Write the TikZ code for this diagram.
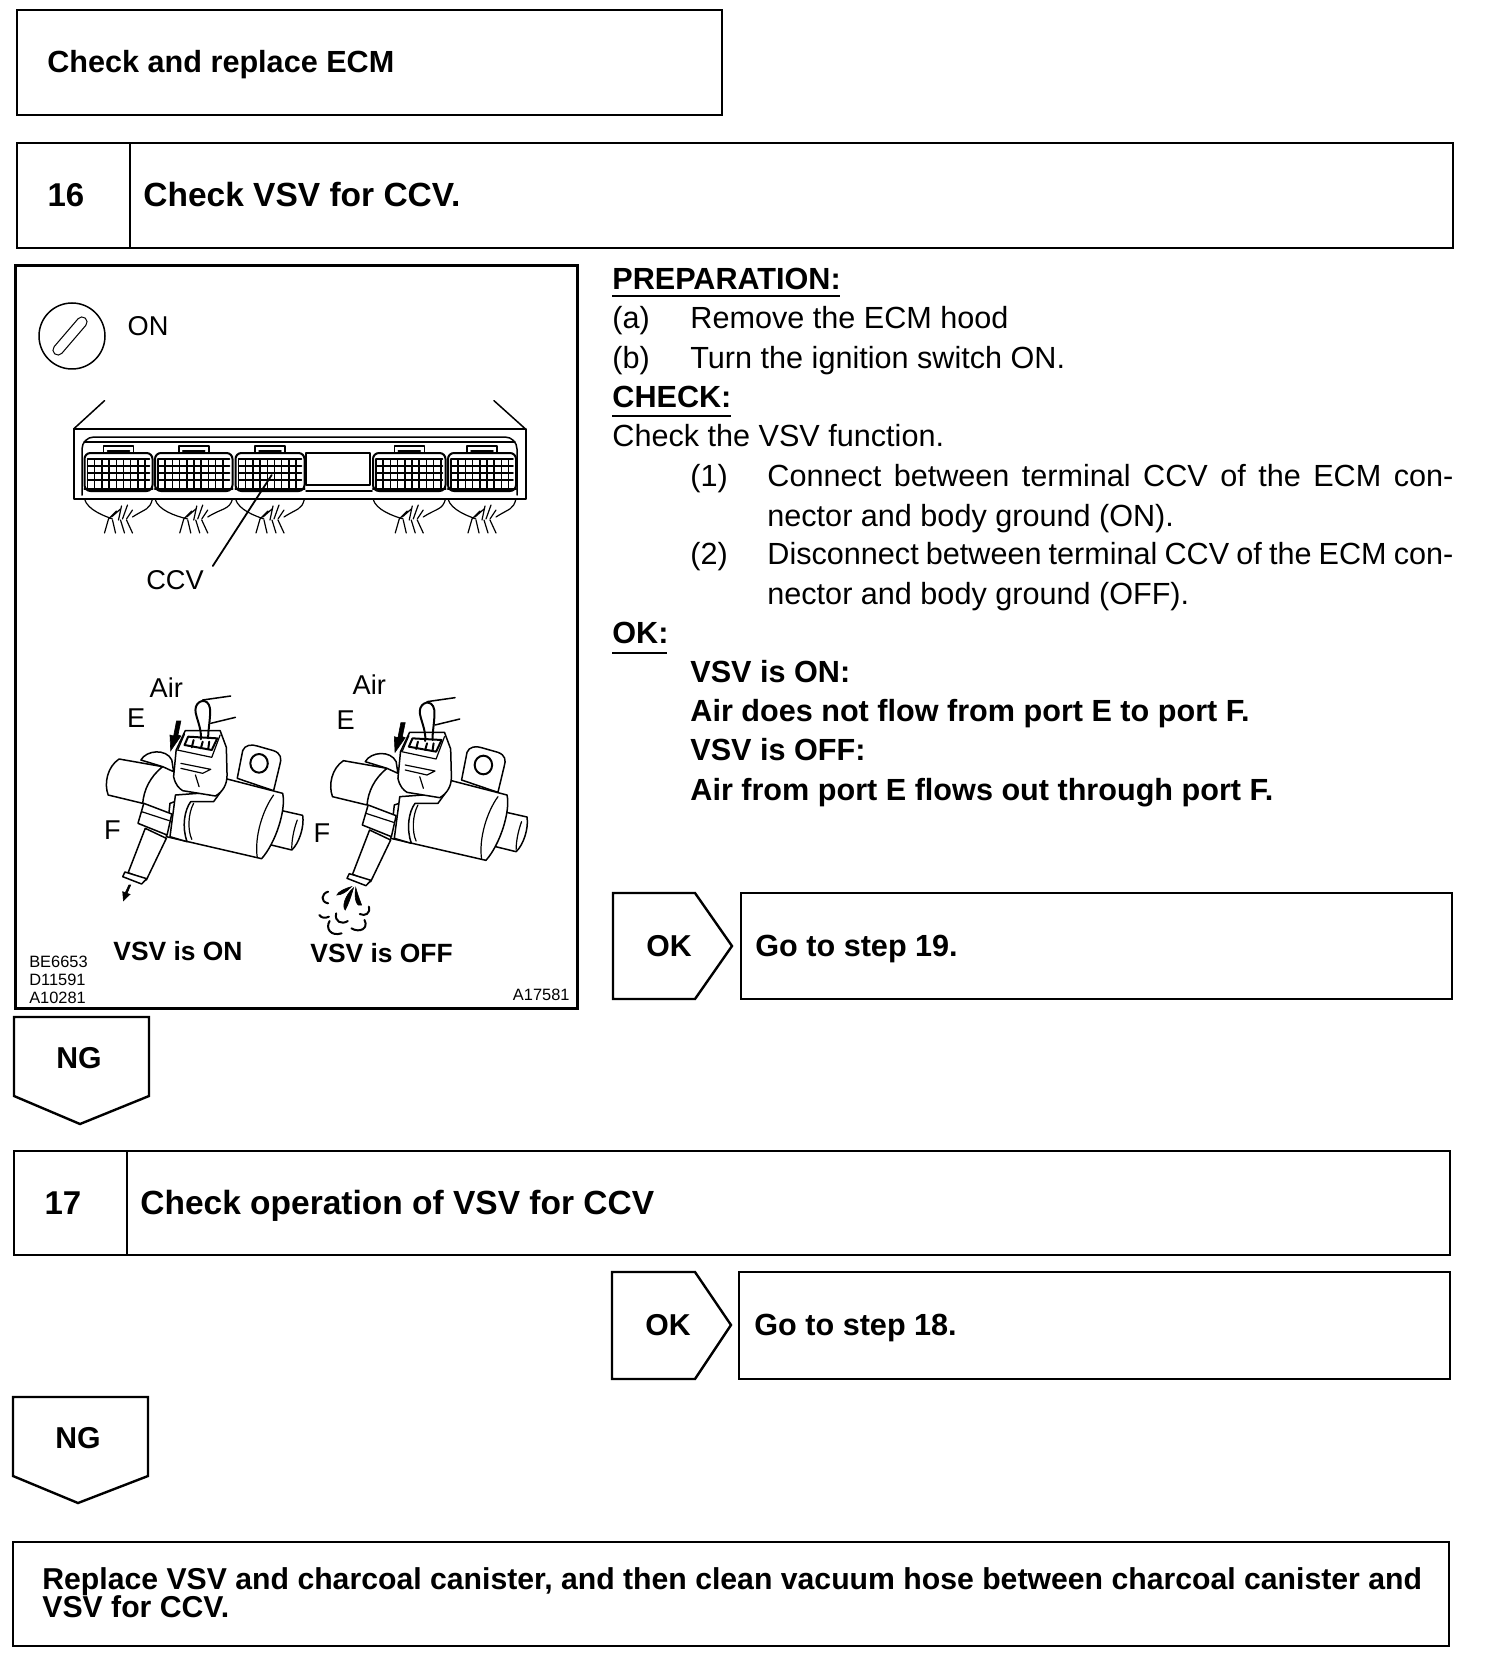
\documentclass[tikz,border=0pt]{standalone}
\usepackage{fontspec}
\setmainfont{Liberation Sans}
\usetikzlibrary{fit}
\tikzset{
 panel/.style={draw=black,line width=1.2pt,inner sep=0pt,fill=white},
 outl/.style={draw=black,line width=1.2pt,line join=miter,fill=white},
 txt/.style={inner sep=0pt,anchor=west,text height=10.8pt,text depth=0pt,font=\fontsize{15.3pt}{17pt}\selectfont},
 btxt/.style={inner sep=0pt,anchor=west,text height=10.8pt,text depth=0pt,font=\fontsize{15.3pt}{17pt}\selectfont\bfseries},
 ttxt/.style={inner sep=0pt,anchor=west,text height=11.8pt,text depth=0pt,font=\fontsize{16.75pt}{19pt}\selectfont\bfseries},
 ctr/.style={inner sep=0pt,anchor=center,text height=10.8pt,text depth=0pt,font=\fontsize{15.1pt}{17pt}\selectfont\bfseries},
 numb/.style={inner sep=0pt,anchor=center,text height=11.8pt,text depth=0pt,font=\fontsize{16.5pt}{19pt}\selectfont\bfseries},
 lab/.style={inner sep=0pt,anchor=center,text height=9.8pt,text depth=0pt,font=\fontsize{13.6pt}{15pt}\selectfont},
 blab/.style={inner sep=0pt,anchor=center,text height=9.5pt,text depth=0pt,font=\fontsize{13.2pt}{15pt}\selectfont\bfseries},
 tiny/.style={inner sep=0pt,text height=5.8pt,text depth=0pt,font=\fontsize{8.2pt}{9pt}\selectfont},
 ul/.style={draw=black,line width=0.8pt},
 art/.style={draw=black,line width=0.75pt,line join=round,line cap=round},
 thin art/.style={draw=black,line width=0.6pt,line join=round,line cap=round},
 ink/.style={fill=black,draw=black,line width=0.3pt},
}
\newcommand{\valvebody}{%
 % left cylinder
 \draw[art,fill=white] (300,297) -- (420,320) .. controls (385,350) and (368,390) .. (365,430) -- (270,405) .. controls (258,370) and (268,320) .. (300,297) -- cycle;
 \draw[art,fill=white] (360,300) .. controls (375,270) and (430,265) .. (445,300) -- (450,335) -- (420,320) -- cycle;
 % bracket
 \draw[art,fill=white] (625,355) -- (640,272) .. controls (645,255) and (665,252) .. (680,258) -- (725,272) .. controls (745,280) and (748,295) .. (742,315) -- (725,392) -- cycle;
 \draw[art,line width=1pt] (685,310) ellipse [x radius=24,y radius=28];
 % right stub
 \draw[art,fill=white] (740,450) -- (805,466) .. controls (810,500) and (795,550) .. (775,570) -- (700,550) -- cycle;
 \draw[thin art] (790,480) .. controls (780,510) and (775,540) .. (775,565);
 % main cylinder
 \draw[art,fill=white] (570,380) -- (590,355) -- (750,400) .. controls (760,450) and (730,550) .. (692,596) -- (430,530) -- (440,430) -- cycle;
 \draw[thin art] (725,405) .. controls (695,450) and (672,530) .. (680,592);
 % band
 \draw[art,fill=white] (455,405) -- (440,530) -- (487,545) .. controls (472,500) and (480,450) .. (497,425) -- (560,425) -- (580,395) -- cycle;
 \draw[thin art] (505,430) .. controls (490,460) and (488,510) .. (500,538);
 % connector body
 \draw[art,fill=white] (457,270) -- (450,350) .. controls (455,375) and (465,385) .. (475,392) -- (565,408) .. controls (585,395) and (597,375) .. (597,345) -- (595,262) -- (578,212) -- (482,212) -- cycle;
 \draw[thin art] (460,270) -- (555,292) -- (578,225) ;
 \draw[thin art] (480,222) -- (462,268);
 \draw[thin art] (470,310) -- (552,328) -- (530,340) -- (470,325);
 \draw[thin art] (510,345) -- (520,380);
 \draw[art,line width=1pt] (490,230) -- (480,255) -- (555,270) -- (570,235) -- cycle;
 \draw[art,line width=1pt] (505,240) -- (500,262) (530,245) -- (525,265) (548,245) -- (545,268);
 % wires
 \draw[art,line width=1pt] (525,238) .. controls (528,205) and (510,170) .. (510,150) .. controls (510,120) and (545,110) .. (550,145) .. controls (552,175) and (545,205) .. (545,235);
 \draw[art] (530,120) -- (607,108) (552,190) -- (620,172);
 % nipple and tube
 \draw[art,fill=white] (368,430) -- (445,462) -- (432,525) -- (352,490) -- cycle;
 \draw[thin art] (362,455) -- (438,482);
 \draw[art,fill=white] (372,505) -- (325,638) -- (375,660) -- (430,535) -- cycle;
 \draw[art,fill=white] (316,636) -- (376,656) -- (362,672) -- (310,650) -- cycle;
 % air arrow
 \fill[ink] (470,183) -- (462,225) -- (470,228) -- (442,272) -- (440,225) -- (450,228) -- (458,183) -- cycle;
}
\begin{document}
\begin{tikzpicture}[x=0.5pt,y=-0.5pt]
\useasboundingbox (0,0) rectangle (1504,1674);
% --- header boxes
\node[panel,fit={(17,10)(722,115)}] (boxtop) {};
\node[btxt] (ttop) at (47,62) {Check and replace ECM};
\node[panel,fit={(17,143)(130,248)}] (num16) {};
\node[panel,fit={(130,143)(1453,248)}] (box16) {};
\node[numb] (t16) at (66,195) {16};
\node[ttxt] (title16) at (143,195) {Check VSV for CCV.};
% --- illustration panel
\node[panel,line width=1.5pt,fit={(15,266)(577,1008)}] (illus) {};
\draw[art] (72,336) circle [radius=33];
\draw[line width=5.6pt,line cap=round,black] (58,350) -- (82,322);
\draw[line width=4.4pt,line cap=round,white] (58,350) -- (82,322);
\node[lab] (on) at (148,326) {ON};
% ECM
\draw[art] (73.6,429) -- (104.5,400.7) (525.5,429) -- (494,400.7);
\draw[art,line width=1pt] (73.6,429) -- (525.5,429) -- (525.5,499) -- (73.6,499) -- cycle;
\draw[art,rounded corners=6pt] (82,495) -- (82,437) -- (517,437) -- (517,495);
\draw[art] (84,442) -- (515,442);
\draw[art,line width=1pt] (306,452.7) rectangle (370,485);
\draw[art] (306,491) -- (372,491);
\foreach \a/\b in {84.5/152.5,155/232.5,235.5/304.5,373/445.5,448/516}{
 \pgfmathsetmacro\c{(\a+\b)/2}
 \draw[art,fill=white] ({\c-15},453) -- ({\c-15},446) -- ({\c+15},446) -- ({\c+15},453);
 \draw[art] ({\c-11},451) -- ({\c+11},451);
 \draw[art,line width=1pt,rounded corners=3pt] (\a,491) -- (\a,453) -- (\b,453) -- (\b,491) -- cycle;
 \draw[art,line width=1.2pt] (\a,489) -- (\b,489);
 \foreach \yy in {459,466,473,480}{\draw[art] ({\a+3},\yy) -- ({\b-3},\yy);}
 \pgfmathsetmacro\nn{int((\b-\a-6)/7.2)}
 \foreach \i in {0,...,\nn}{\draw[art] ({\a+3+\i*7.2},459) -- ({\a+3+\i*7.2},489);}
 \draw[thin art] (\a,499) .. controls ({\a+3},510) and ({\a+20},516) .. ({\c-6},519);
 \draw[thin art] (\b,499) .. controls ({\b-3},510) and ({\c+28},508) .. ({\c+14},517);
 \draw[thin art] ({\c-6},520) -- ({\c-3},533) ({\c-10},519) -- ({\c-14},533);
 \draw[thin art] ({\c+8},520) -- ({\c+14},533) ({\c+2},520) -- ({\c+6},533);
 \draw[thin art] ({\c-10},519) -- ({\c-2},511) (\c,520) -- ({\c+3},506) ({\c+4},519) -- ({\c+9},505) ({\c+8},519) -- ({\c+14},510) ({\c-7},517) -- ({\c+2},509);
}
\coordinate (ccvpin) at (271.7,475);
\coordinate (ccvend) at (212.8,566);
\draw[art,line width=0.9pt] (ccvpin) -- (ccvend);
\node[lab] (ccv) at (175,580) {CCV};
% valves, in crop units
\begin{scope}[shift={(10,660)},x=0.1818pt,y=-0.16667pt]
 \valvebody
 \fill[ink] (332,675) -- (322,700) -- (330,703) -- (312,722) -- (310,695) -- (317,698) -- (327,675) -- cycle;
 \begin{scope}[shift={(617,5)}]
  \valvebody
  \fill[ink] (322,675) .. controls (310,690) and (295,700) .. (282,700) .. controls (285,690) and (305,680) .. (322,675) -- cycle;
  \fill[ink] (328,678) .. controls (322,700) and (315,725) .. (305,745) .. controls (295,735) and (305,700) .. (328,678) -- cycle;
  \fill[ink] (334,678) .. controls (338,695) and (345,715) .. (350,730) .. controls (338,738) and (328,715) .. (334,678) -- cycle;
  \draw[art,line width=1pt] (258,690) .. controls (240,695) and (235,720) .. (258,725);
  \draw[art,line width=1pt] (370,735) .. controls (375,755) and (360,765) .. (345,757);
  \draw[art,line width=1pt] (280,755) .. controls (275,780) and (295,790) .. (312,778);
  \draw[art,line width=1pt] (234,760) .. controls (240,770) and (250,770) .. (260,765);
  \draw[art,line width=1pt] (262,778) .. controls (250,800) and (265,825) .. (295,815);
  \draw[art,line width=1pt] (358,775) .. controls (370,800) and (345,815) .. (322,800);
 \end{scope}
 \node[lab] (airl) at (430,82) {Air};
 \node[lab] (el) at (347,172) {E};
 \node[lab] (fl) at (282,510) {F};
 \node[lab] (airr) at (988,74) {Air};
 \node[lab] (er) at (923,178) {E};
 \node[lab] (fr) at (858,517) {F};
 \node[blab] (vsvon) at (462,873) {VSV is ON};
 \node[blab] (vsvoff) at (1022,878) {VSV is OFF};
 \node[tiny,anchor=west] (c1) at (52,905) {BE6653};
 \node[tiny,anchor=west] (c2) at (52,960) {D11591};
 \node[tiny,anchor=west] (c3) at (52,1013) {A10281};
 \node[tiny,anchor=east] (c4) at (1540,1003) {A17581};
\end{scope}
% --- right text
\node[btxt] (prep) at (612,279) {PREPARATION:};
\draw[ul] (612,296) -- (840,296);
\node[txt] (a1) at (612,318) {(a)};
\node[txt] (a2) at (690,318) {Remove the ECM hood};
\node[txt] (b1) at (612,358) {(b)};
\node[txt] (b2) at (690,358) {Turn the ignition switch ON.};
\node[btxt] (chk) at (612,397) {CHECK:};
\draw[ul] (612,416) -- (731,416);
\node[txt] (chk2) at (612,436) {Check the VSV function.};
\node[txt] (n1) at (690,476) {(1)};
\node[txt] (n1a) at (767,476) {\hbox to 343pt{Connect between terminal CCV of the ECM con-}};
\node[txt] (n1b) at (767,516) {nector and body ground (ON).};
\node[txt] (n2) at (690,554) {(2)};
\node[txt] (n2a) at (767,554) {\hbox to 343pt{Disconnect between terminal CCV of the ECM con-}};
\node[txt] (n2b) at (767,594) {nector and body ground (OFF).};
\node[btxt] (okh) at (612,633) {OK:};
\draw[ul] (612,653) -- (667,653);
\node[btxt] (r1) at (690,672) {VSV is ON:};
\node[btxt] (r2) at (690,711) {Air does not flow from port E to port F.};
\node[btxt] (r3) at (690,750) {VSV is OFF:};
\node[btxt] (r4) at (690,790) {Air from port E flows out through port F.};
% --- OK 1
\draw[outl] (613,893) -- (695,893) -- (732,946) -- (695,999) -- (613,999) -- cycle;
\node[ctr] (ok1) at (669,946) {OK};
\node[panel,fit={(741,893)(1452,999)}] (go19) {};
\node[btxt] (go19t) at (755,946) {Go to step 19.};
% --- NG 1
\draw[outl] (14,1017) -- (149,1017) -- (149,1096) -- (80,1124) -- (14,1096) -- cycle;
\node[ctr] (ng1) at (79,1058) {NG};
% --- box 17
\node[panel,fit={(14,1151)(127,1255)}] (num17) {};
\node[panel,fit={(127,1151)(1450,1255)}] (box17) {};
\node[numb] (t17) at (63,1203) {17};
\node[ttxt] (title17) at (140,1203) {Check operation of VSV for CCV};
% --- OK 2
\draw[outl] (612,1272) -- (695,1272) -- (731,1325) -- (695,1379) -- (612,1379) -- cycle;
\node[ctr] (ok2) at (668,1325) {OK};
\node[panel,fit={(739,1272)(1450,1379)}] (go18) {};
\node[btxt] (go18t) at (754,1325) {Go to step 18.};
% --- NG 2
\draw[outl] (13,1397) -- (148,1397) -- (148,1476) -- (78,1503) -- (13,1476) -- cycle;
\node[ctr] (ng2) at (78,1438) {NG};
% --- final
\node[panel,fit={(13,1542)(1449,1646)}] (final) {};
\node[btxt,font=\fontsize{15.1pt}{17pt}\selectfont\bfseries] (f1) at (42,1579) {Replace VSV and charcoal canister, and then clean vacuum hose between charcoal canister and};
\node[btxt,font=\fontsize{15.1pt}{17pt}\selectfont\bfseries] (f2) at (42,1607) {VSV for CCV.};
\end{tikzpicture}
\end{document}
